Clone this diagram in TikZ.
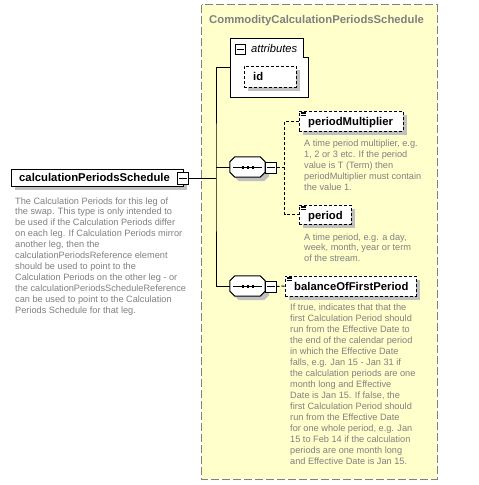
\documentclass[tikz,border=0pt]{standalone}
\usepackage{fontspec}
\setmainfont{Liberation Sans}
\usetikzlibrary{calc,shadows}
\definecolor{yel}{HTML}{FFFFCC}
\definecolor{txtgray}{HTML}{808080}
\definecolor{shgray}{HTML}{C0C0C0}
\tikzset{
  shbox/.style={drop shadow={shadow xshift=4pt, shadow yshift=-4pt, fill=shgray, opacity=1}},
  elembox/.style={draw=black, line width=1pt, fill=white, inner sep=0pt, shbox},
  optbox/.style={elembox, dash pattern=on 3pt off 2pt},
  minusbox/.style={draw=black, line width=1pt, fill=white, inner sep=0pt, minimum size=10pt},
  namefont/.style={font=\fontsize{11.3}{13}\selectfont\bfseries, inner sep=0pt, anchor=base west},
  descfont/.style={font=\fontsize{9.2}{10.95}\selectfont, text=txtgray, inner sep=0pt, anchor=base west, align=left},
  conn/.style={line width=1pt, draw=black},
  dconn/.style={line width=1pt, draw=black, dash pattern=on 3pt off 2pt},
  hole/.style={inner sep=0pt, draw=none}
}
\newcommand\octshape[3]{% node, dx, dy
  ($(#1.north west)+(5+#2,#3)$) -- ($(#1.north east)+(-5+#2,#3)$) --
  ($(#1.north east)+(#2,5+#3)$) -- ($(#1.south east)+(#2,-5+#3)$) --
  ($(#1.south east)+(-5+#2,#3)$) -- ($(#1.south west)+(5+#2,#3)$) --
  ($(#1.south west)+(#2,-5+#3)$) -- ($(#1.north west)+(#2,5+#3)$) -- cycle}
\newcommand\drawcomp[1]{%
  \fill[shgray] \octshape{#1}{4}{4};
  \draw[line width=1pt, fill=white] \octshape{#1}{0}{0};
  \draw[line width=1pt] ($(#1.west)+(3,0)$) -- ($(#1.east)+(-3,0)$);
  \fill ($(#1.center)+(-6,-1)$) rectangle ++(2.5,2.5);
  \fill ($(#1.center)+(-1,-1)$) rectangle ++(2.5,2.5);
  \fill ($(#1.center)+(4,-1)$) rectangle ++(2.5,2.5);
}
\newcommand\drawminus[1]{%
  \draw[line width=1pt] ($(#1.west)+(2,0)$) -- ($(#1.east)+(-2,0)$);
}
\newcommand\drawicon[1]{%
  \draw[line width=0.8pt] ($(#1.north west)+(2,1.5)$) -- ++(5,0);
  \draw[line width=0.8pt] ($(#1.north west)+(2,3)$) -- ++(5,0);
  \draw[line width=0.8pt] ($(#1.north west)+(2,4.5)$) -- ++(5,0);
}
\begin{document}
\begin{tikzpicture}[x=1pt, y=-1pt]
\useasboundingbox[fill=white] (0,0) rectangle (479,485);

% complex type frame
\node[hole, minimum width=235pt, minimum height=474pt] (frame) at (319.5,242) {};
\draw[fill=yel, draw=txtgray, line width=1pt, dash pattern=on 8pt off 3pt] (frame.north west) rectangle (frame.south east);
\node[namefont, text=txtgray] (title) at (209,23) {CommodityCalculationPeriodsSchedule};

% attributes group
\node[hole, minimum width=78pt, minimum height=59pt] (attr) at (269,67.5) {};
\draw[line width=1pt, fill=white] (230,38) -- (303,38) -- (303,57) -- (308,57) -- (308,97) -- (230,97) -- cycle;
\node[minusbox] (attrM) at (240,49.5) {};
\drawminus{attrM}
\node[inner sep=0pt, anchor=base west, font=\fontsize{11.2}{13}\selectfont\itshape] (attrT) at (251,52.5) {attributes};
\node[optbox, minimum width=52pt, minimum height=21pt] (id) at (270,76.5) {};
\node[namefont] (idT) at (253,80) {id};

% main element
\node[elembox, minimum width=172pt, minimum height=17pt] (main) at (97,177.5) {};
\node[namefont] (mainT) at (19,181.5) {calculationPeriodsSchedule};
\node[minusbox, minimum width=11pt, minimum height=12pt] (mainM) at (183,178) {};
\drawminus{mainM}
\node[descfont] (mainD) at (15,313.5) {The Calculation Periods for this leg of\\
the swap. This type is only intended to\\
be used if the Calculation Periods differ\\
on each leg. If Calculation Periods mirror\\
another leg, then the\\
calculationPeriodsReference element\\
should be used to point to the\\
Calculation Periods on the other leg - or\\
the calculationPeriodsScheduleReference\\
can be used to point to the Calculation\\
Periods Schedule for that leg.};

% sequences
\node[hole, minimum width=35pt, minimum height=20pt] (seq1) at (247.5,167) {};
\drawcomp{seq1}
\node[minusbox, minimum size=11pt] (seq1M) at (270.5,167.5) {};
\drawminus{seq1M}
\node[hole, minimum width=35pt, minimum height=20pt] (seq2) at (247.5,286) {};
\drawcomp{seq2}
\node[minusbox, minimum size=11pt] (seq2M) at (270.5,286.5) {};
\drawminus{seq2M}

% child elements
\node[optbox, minimum width=104pt, minimum height=20pt] (pm) at (351,121) {};
\drawicon{pm}
\node[namefont] (pmT) at (308,125) {periodMultiplier};
\node[descfont] (pmD) at (304,190.4) {A time period multiplier, e.g.\\
1, 2 or 3 etc. If the period\\
value is T (Term) then\\
periodMultiplier must contain\\
the value 1.};

\node[optbox, minimum width=52pt, minimum height=19pt] (per) at (325,214.5) {};
\drawicon{per}
\node[namefont] (perT) at (308,219) {period};
\node[descfont] (perD) at (304,261.9) {A time period, e.g. a day,\\
week, month, year or term\\
of the stream.};

\node[optbox, minimum width=131pt, minimum height=20pt] (bal) at (350.5,286) {};
\drawicon{bal}
\node[namefont] (balT) at (294,290) {balanceOfFirstPeriod};
\node[descfont] (balD) at (290,464) {If true, indicates that that the\\
first Calculation Period should\\
run from the Effective Date to\\
the end of the calendar period\\
in which the Effective Date\\
falls, e.g. Jan 15 - Jan 31 if\\
the calculation periods are one\\
month long and Effective\\
Date is Jan 15. If false, the\\
first Calculation Period should\\
run from the Effective Date\\
for one whole period, e.g. Jan\\
15 to Feb 14 if the calculation\\
periods are one month long\\
and Effective Date is Jan 15.};

% connectors
\coordinate (trunk) at (216,178);
\draw[conn] (mainM.east) -- (trunk);
\draw[conn] (attr.west) -| (trunk) |- (seq2.west);
\draw[conn] (seq1.west) -- (seq1.west -| trunk);
\draw[dconn] (seq1M.east) -- ++(8,0) coordinate (br1);
\draw[dconn] (pm.west) -| (br1) |- (per.west);
\draw[dconn] (seq2M.east) -- (bal.west);
\end{tikzpicture}
\end{document}
